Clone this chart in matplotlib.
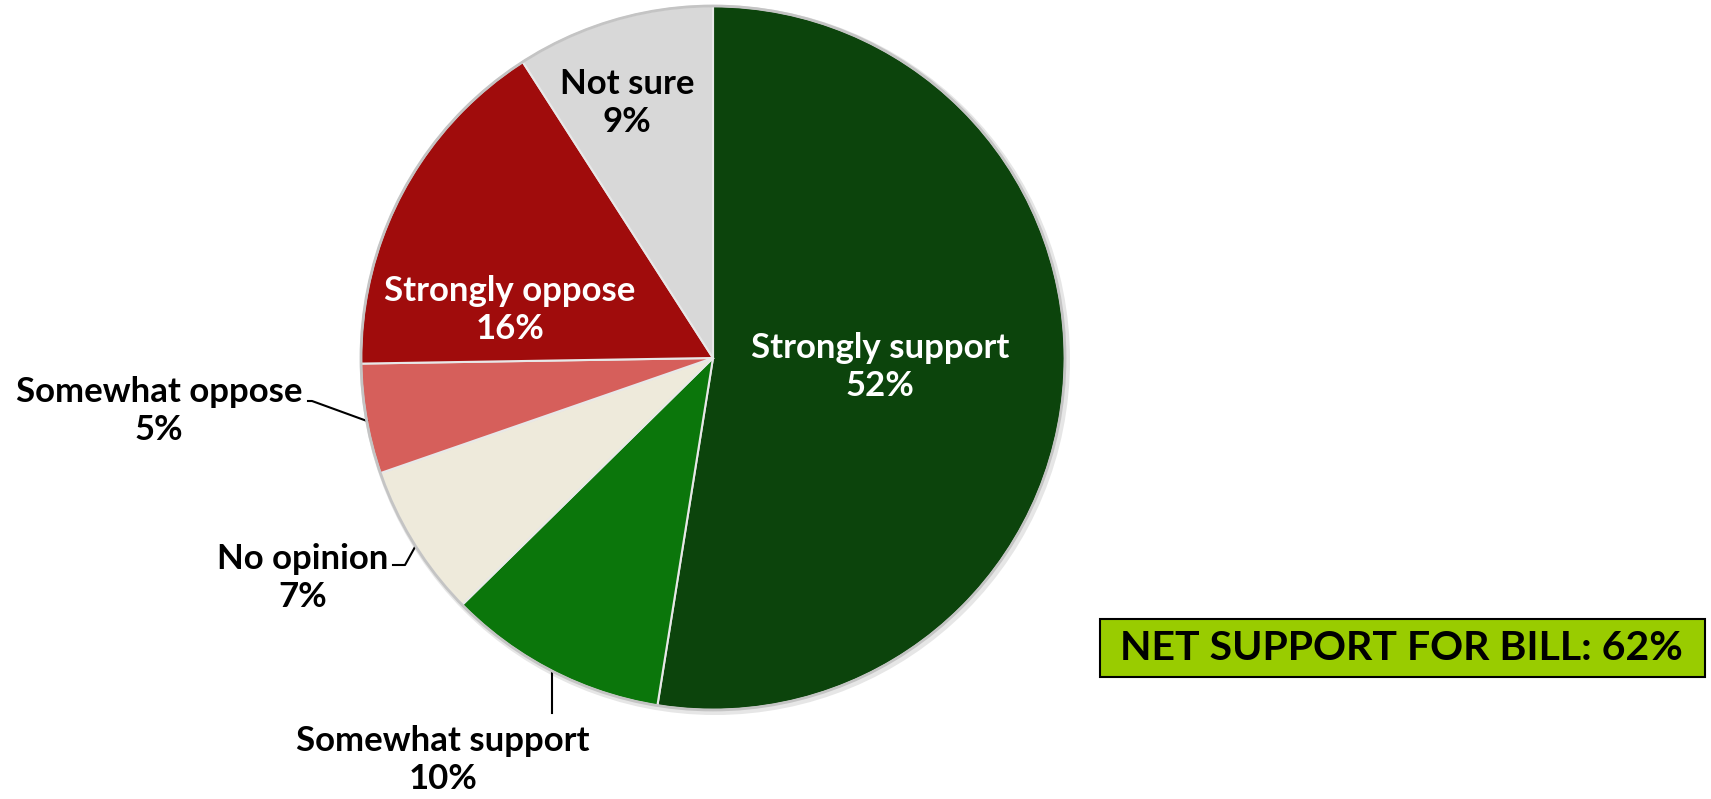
import matplotlib
matplotlib.use("Agg")
import matplotlib.pyplot as plt
from matplotlib.patches import Rectangle, Circle

plt.rcParams['font.family'] = ['Lato', 'DejaVu Sans']

categories = ["Strongly support", "Somewhat support", "No opinion",
              "Somewhat oppose", "Strongly oppose", "Not sure"]
values = [52, 10, 7, 5, 16, 9]
colors = ["#0C440C", "#0B760B", "#EEEADB", "#D65F5B", "#A00C0C", "#D8D8D8"]
summary = "NET SUPPORT FOR BILL: 62%"

W, H = 1711, 799
fig = plt.figure(figsize=(W / 100, H / 100), dpi=100)
ax = fig.add_axes([0, 0, 1, 1])
ax.set_xlim(0, W)
ax.set_ylim(0, H)
ax.set_aspect('equal')
ax.axis('off')

def Y(y):
    return H - y

cx, cy, r = 713, 358, 352
# soft shadow
ax.add_patch(Circle((cx + 2, Y(cy) - 2), r + 3, facecolor="#E6E6E6",
                    edgecolor="none", zorder=0))
wedges, _ = ax.pie(values, colors=colors, startangle=90, counterclock=False,
                   center=(cx, Y(cy)), radius=r,
                   wedgeprops=dict(edgecolor="#E8E8E8", linewidth=1.5))
ax.set_xlim(0, W)
ax.set_ylim(0, H)
ax.add_patch(Circle((cx, Y(cy)), r, fill=False, edgecolor="#C4C4C4",
                    linewidth=2, zorder=5))

fs = 25
ls = 1.2
pct = [f"{v}%" for v in values]

def lab(x, y, s, color="black"):
    ax.text(x, Y(y), s, color=color, fontsize=fs, fontweight="bold",
            ha="center", va="center", linespacing=ls, zorder=6)

# inside labels
lab(880, 367, f"{categories[0]}\n{pct[0]}", "white")
lab(510, 310, f"{categories[4]}\n{pct[4]}", "white")
lab(627, 103, f"{categories[5]}\n{pct[5]}")

# outside labels
lab(159, 411, f"{categories[3]}\n{pct[3]}")
ax.plot([308, 312, 367], [Y(401), Y(401), Y(421)], color="black", lw=1.5)

lab(303, 578, f"{categories[2]}\n{pct[2]}")
ax.plot([393, 405, 415], [Y(565), Y(565), Y(547)], color="black", lw=1.5)

lab(443, 760, f"{categories[1]}\n{pct[1]}")
ax.plot([552, 552], [Y(673), Y(713)], color="black", lw=1.5)

# summary box
ax.add_patch(Rectangle((1100, Y(677)), 605, 58, facecolor="#99CC00",
                       edgecolor="black", linewidth=1.5, zorder=6))
ax.text(1120, Y(648), summary, fontsize=29.5, fontweight="bold", color="black",
        ha="left", va="center", zorder=7)

fig.savefig("out.png", dpi=100, facecolor="white")
